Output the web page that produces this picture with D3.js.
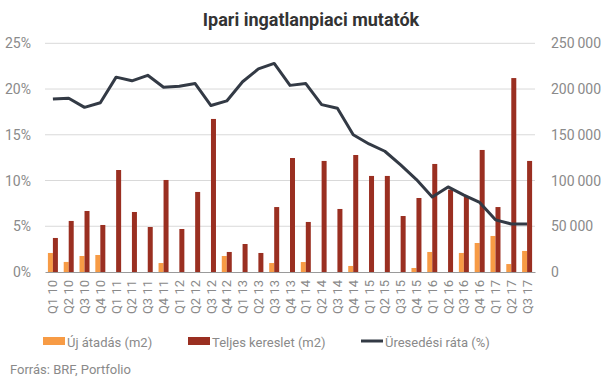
<!DOCTYPE html>
<html>
<head>
<meta charset="utf-8">
<script src="https://cdn.jsdelivr.net/npm/d3@7/dist/d3.min.js"></script>
<style>
  html, body { margin: 0; padding: 0; background: #fff; }
  svg { display: block; font-family: Roboto, "Noto Sans", sans-serif; }
</style>
</head>
<body>
<svg id="chart" width="606" height="378"></svg>
<script>
const categories = ["Q1 10","Q2 10","Q3 10","Q4 10","Q1 11","Q2 11","Q3 11","Q4 11",
  "Q1 12","Q2 12","Q3 12","Q4 12","Q1 13","Q2 13","Q3 13","Q4 13",
  "Q1 14","Q2 14","Q3 14","Q4 14","Q1 15","Q2 15","Q3 15","Q4 15",
  "Q1 16","Q2 16","Q3 16","Q4 16","Q1 17","Q2 17","Q3 17"];
const ujAtadas = [20800, 11000, 17500, 18600, 0, 0, 0, 9800,
  0, 0, 0, 17500, 0, 0, 9800, 0,
  10900, 0, 0, 6600, 0, 0, 0, 4400,
  21900, 0, 20800, 31700, 39400, 8700, 23000];
const teljesKereslet = [37200, 55800, 66700, 51400, 111500, 65600, 49200, 100600,
  47000, 87500, 167300, 21900, 30600, 20800, 71000, 124600,
  54700, 121400, 68900, 127900, 105000, 105000, 61200, 80900,
  118100, 90000, 83000, 133400, 71000, 212000, 121400];
const uresedesiRata = [18.9, 19.0, 18.0, 18.5, 21.3, 20.9, 21.5, 20.2,
  20.3, 20.6, 18.2, 18.7, 20.8, 22.2, 22.8, 20.4,
  20.6, 18.3, 17.9, 15.0, 14.0, 13.2, 11.7, 10.1,
  8.2, 9.3, 8.4, 7.6, 5.7, 5.25, 5.25];
const leftTicks = [0, 5, 10, 15, 20, 25];
const rightTicks = [0, 50000, 100000, 150000, 200000, 250000];
const seriesNames = ["Új átadás (m2)", "Teljes kereslet (m2)", "Üresedési ráta (%)"];
const colors = { orange: "#F79B45", red: "#9A2F21", line: "#333A45" };

const svg = d3.select("#chart");
const m = { left: 45, right: 535, top: 43.3, bottom: 272 };

const x = d3.scaleBand().domain(categories).range([m.left, m.right]).padding(0);
const yL = d3.scaleLinear().domain([0, 25]).range([m.bottom, m.top]);
const yR = d3.scaleLinear().domain([0, 250000]).range([m.bottom, m.top]);

// title
svg.append("text").attr("x", 311).attr("y", 26).attr("text-anchor", "middle")
  .attr("font-size", 18).attr("font-weight", "bold").attr("fill", "#333")
  .text("Ipari ingatlanpiaci mutatók");

// gridlines
svg.append("g").selectAll("line").data(leftTicks.filter(d => d > 0)).join("line")
  .attr("x1", m.left).attr("x2", m.right)
  .attr("y1", d => yL(d)).attr("y2", d => yL(d))
  .attr("stroke", "#d9d9d9").attr("stroke-width", 1);

// left axis
const axL = svg.append("g").attr("transform", `translate(${m.left},0)`)
  .call(d3.axisLeft(yL).tickValues(leftTicks).tickFormat(d => d + "%").tickSize(0).tickPadding(14));
axL.select(".domain").remove();
axL.selectAll("text").attr("font-size", 14).attr("fill", "#8a8a8a").attr("font-family", "Roboto");

// right axis
const fmtR = d => d === 0 ? "0" : d3.format(",")(d).replace(/,/g, "\u2009");
const axR = svg.append("g").attr("transform", `translate(${m.right},0)`)
  .call(d3.axisRight(yR).tickValues(rightTicks).tickFormat(fmtR).tickSize(0).tickPadding(16));
axR.select(".domain").remove();
axR.selectAll("text").attr("font-size", 14).attr("fill", "#8a8a8a").attr("font-family", "Roboto");

// bars
const bw = 5;
svg.append("g").selectAll("rect").data(categories).join("rect")
  .attr("x", d => x(d) + x.bandwidth() / 2 - bw)
  .attr("width", bw)
  .attr("y", (d, i) => yR(ujAtadas[i]))
  .attr("height", (d, i) => yR(0) - yR(ujAtadas[i]))
  .attr("fill", colors.orange);
svg.append("g").selectAll("rect").data(categories).join("rect")
  .attr("x", d => x(d) + x.bandwidth() / 2)
  .attr("width", bw)
  .attr("y", (d, i) => yR(teljesKereslet[i]))
  .attr("height", (d, i) => yR(0) - yR(teljesKereslet[i]))
  .attr("fill", colors.red);

// x axis
const axX = svg.append("g").attr("transform", `translate(0,${m.bottom})`)
  .call(d3.axisBottom(x).tickSize(0).tickPadding(0));
axX.select(".domain").attr("stroke", "#9a9a9a").attr("stroke-width", 1.2);
axX.selectAll("text")
  .attr("font-size", 13).attr("fill", "#8a8a8a").attr("font-family", "Roboto")
  .attr("text-anchor", "end")
  .attr("transform", "translate(0,8) rotate(-90)")
  .attr("x", 0).attr("y", 0).attr("dy", "0.35em");

// line
const line = d3.line()
  .x((d, i) => x(categories[i]) + x.bandwidth() / 2)
  .y(d => yL(d));
svg.append("path").datum(uresedesiRata)
  .attr("d", line).attr("fill", "none")
  .attr("stroke", colors.line).attr("stroke-width", 3).attr("stroke-linejoin", "round");

// legend
const lg = svg.append("g");
const legendItems = [
  { name: seriesNames[0], x: 43, type: "rect", color: colors.orange },
  { name: seriesNames[1], x: 188, type: "rect", color: colors.red },
  { name: seriesNames[2], x: 361, type: "line", color: colors.line }
];
legendItems.forEach(it => {
  if (it.type === "rect") {
    lg.append("rect").attr("x", it.x).attr("y", 337).attr("width", 22).attr("height", 8).attr("fill", it.color);
  } else {
    lg.append("line").attr("x1", it.x).attr("x2", it.x + 22).attr("y1", 341).attr("y2", 341)
      .attr("stroke", it.color).attr("stroke-width", 3);
  }
  lg.append("text").attr("x", it.x + 24).attr("y", 346.5)
    .attr("font-size", 13).attr("fill", "#8a8a8a").text(it.name);
});

// source
svg.append("text").attr("x", 10).attr("y", 374)
  .attr("font-size", 13).attr("fill", "#8a8a8a").text("Forrás: BRF, Portfolio");
</script>
</body>
</html>
